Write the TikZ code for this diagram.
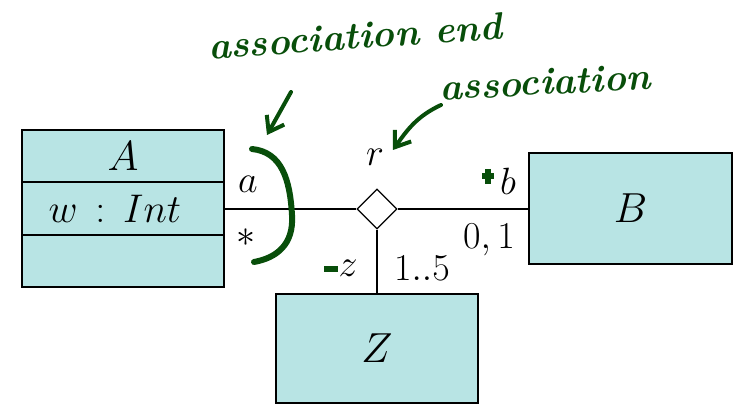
\RequirePackage{fix-cm}
\documentclass[tikz,border=0pt]{standalone}
\usepackage{tikz}
\usetikzlibrary{arrows.meta,calc,shapes.geometric}
\definecolor{umlfill}{RGB}{184,228,228}
\definecolor{ink}{RGB}{8,78,10}
\tikzset{cls/.style={draw,line width=1.3pt,fill=umlfill,inner sep=0pt,outer sep=0pt,font=\fontsize{21}{24}\selectfont},
  lbl/.style={inner sep=0pt,font=\fontsize{19}{22}\selectfont},
  hand/.style={ink,line width=2pt,line cap=round},
  note/.style={ink,inner sep=0pt,font=\fontsize{19}{22}\selectfont\bfseries\itshape}}

\begin{document}
\begin{tikzpicture}[x=0.5pt,y=-0.5pt,line width=0.6pt]
\useasboundingbox(0,0)rectangle(735,405);
% class A, three compartments
\node[cls,minimum width=101pt,minimum height=26pt](Aname)at(123,156){$A$};
\node[cls,minimum width=101pt,minimum height=26.5pt,anchor=north](Aattr)at(Aname.south){};\node[anchor=west,inner sep=0pt,font=\fontsize{20}{23}\selectfont](w)at($(Aattr.west)+(26,0)$){$w\,:\,Int$};
\node[cls,minimum width=101pt,minimum height=26pt,anchor=north](Aops)at(Aattr.south){};
\node[cls,minimum width=101.5pt,minimum height=55.5pt](B)at(630.5,208.5){$B$};
\node[cls,minimum width=101pt,minimum height=54.5pt](Z)at(377,348.5){$Z$};
\node[draw,diamond,fill=white,inner sep=0pt,minimum width=20pt,minimum height=20pt](r)at(377,209){};
\draw(Aattr.east|-r.west)--(r.west);\draw(r.east)--(B.west|-r.east);\draw(r.south)--(Z.north);
% role names and multiplicities
\node[lbl]at(375,157){$r$};\node[lbl]at(248,184){$a$};\node[lbl]at(246,238){$*$};
\node[lbl]at(508,181){$b$};\node[lbl]at(489,240){$0,1$};\node[lbl]at(348,268){$z$};\node[lbl]at(422,268){$1..5$};
% handwritten notes
\draw[ink,line width=3pt](482,176)--(494,176);\draw[ink,line width=3pt](488,169)--(488,184);\draw[ink,line width=3pt](324,269)--(338,269);
\draw[hand,line width=3pt](252,149)..controls(282,152)and(290,180)..(292,215)..controls(294,245)and(276,258)..(254,262);
\node[note,rotate=4](endnote)at(355,36){association end};\node[note,rotate=3](assocnote)at(545,82){association};
\coordinate(endtip)at(267,135);\coordinate(rtip)at(393,150);
\draw[hand,-{Straight Barb[length=7pt,width=10pt]}](291,92)--(endtip);
\draw[hand,-{Straight Barb[length=7pt,width=10pt]}](441,105)to[out=205,in=55](rtip);
\end{tikzpicture}
\end{document}
